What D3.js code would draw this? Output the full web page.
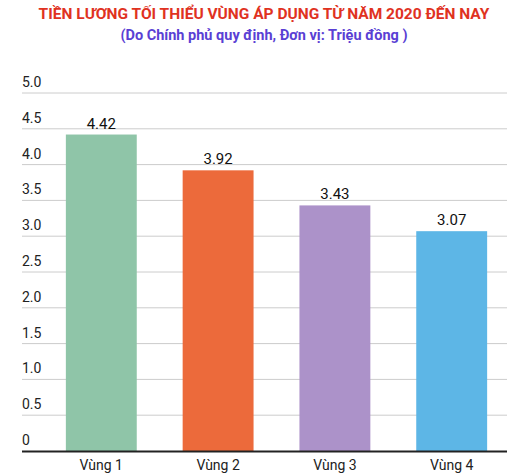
<!DOCTYPE html><html><head><meta charset="utf-8"><script src="https://cdn.jsdelivr.net/npm/d3@7"></script>
<style>body{margin:0;background:#fff}text{font-family:Roboto,sans-serif}</style></head><body><svg id="c" width="528" height="473"></svg>
<script>
const categories=["Vùng 1","Vùng 2","Vùng 3","Vùng 4"];
const values=[4.42,3.92,3.43,3.07];
const colors=["#8fc5a8","#ec6a3b","#ac92c9","#5db6e6"];
const ticks=[0,0.5,1,1.5,2,2.5,3,3.5,4,4.5,5];
const tickLabels=["0","0.5","1.0","1.5","2.0","2.5","3.0","3.5","4.0","4.5","5.0"];
const svg=d3.select("#c");
const y=d3.scaleLinear().domain([0,5]).range([451,93]);
const x=d3.scaleBand().domain(categories).range([42.5,510.5]).paddingInner(0.393).paddingOuter(0.2);
svg.append("text").attr("x",264).attr("y",19).attr("text-anchor","middle").attr("fill","#e0321f").attr("font-weight","bold").attr("font-size",15.5).text("TIỀN LƯƠNG TỐI THIỂU VÙNG ÁP DỤNG TỪ NĂM 2020 ĐẾN NAY");
svg.append("text").attr("x",264).attr("y",40).attr("text-anchor","middle").attr("fill","#5a3fd4").attr("font-weight","bold").attr("font-size",14.5).text("(Do Chính phủ quy định, Đơn vị: Triệu đồng )");
const g=svg.append("g");
ticks.forEach((t,i)=>{
 if(t>0)g.append("line").attr("x1",22).attr("x2",507).attr("y1",y(t)).attr("y2",y(t)).attr("stroke","#cccccc");
 g.append("text").attr("x",22).attr("y",y(t)-6).attr("font-size",14).attr("fill","#222").text(tickLabels[i]);
});
svg.selectAll("rect.b").data(values).join("rect").attr("x",(d,i)=>x(categories[i])).attr("width",x.bandwidth()).attr("y",d=>y(d)).attr("height",d=>y(0)-y(d)).attr("fill",(d,i)=>colors[i]);
svg.selectAll("text.v").data(values).join("text").attr("x",(d,i)=>x(categories[i])+x.bandwidth()/2).attr("y",d=>y(d)-6).attr("text-anchor","middle").attr("font-size",15).attr("fill","#111").text(d=>d.toFixed(2));
svg.append("line").attr("x1",22).attr("x2",507).attr("y1",y(0)+0.5).attr("y2",y(0)+0.5).attr("stroke","#222").attr("stroke-width",2);
categories.forEach(c=>svg.append("text").attr("x",x(c)+x.bandwidth()/2).attr("y",470).attr("text-anchor","middle").attr("font-size",14).attr("fill","#222").text(c));
</script></body></html>
